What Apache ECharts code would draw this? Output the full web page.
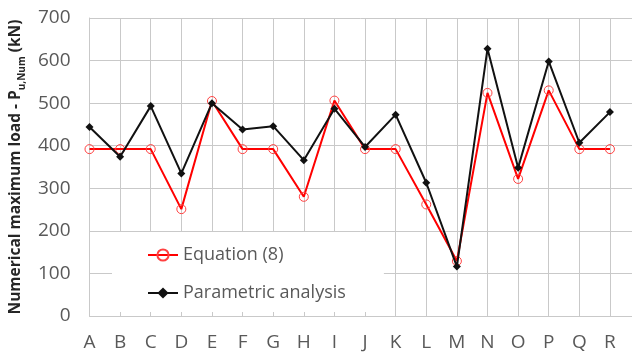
<!DOCTYPE html>
<html>
<head>
<meta charset="utf-8">
<script src="https://cdn.jsdelivr.net/npm/echarts@6/dist/echarts.min.js"></script>
<style>
  html, body { margin: 0; padding: 0; background: #fff; }
  #chart { width: 632px; height: 352px; }
</style>
</head>
<body>
<div id="chart"></div>
<script>
// Specimen labels along the horizontal axis
const categories = ['A', 'B', 'C', 'D', 'E', 'F', 'G', 'H', 'I', 'J', 'K', 'L', 'M', 'N', 'O', 'P', 'Q', 'R'];

// Maximum load predicted by Equation (8), kN
const equationValues = [392, 392, 392, 251, 505, 392, 392, 280, 506, 392, 392, 262, 129, 524, 322, 530, 392, 392];

// Maximum load from the parametric analysis, kN
const parametricValues = [444, 374, 493, 335, 500, 438, 446, 366, 487, 397, 473, 313, 116, 628, 348, 598, 407, 479];

// Vertical axis ticks
const yTicks = { min: 0, max: 700, step: 100 };

const gridColor = '#c9c9c9';
const labelColor = '#595959';
const font = '"Open Sans", "Noto Sans", sans-serif';

const toPoints = vals => vals.map((v, i) => [i, v]);

const chart = echarts.init(document.getElementById('chart'), null, { renderer: 'canvas' });

chart.setOption({
  animation: false,
  backgroundColor: '#fff',
  grid: { left: 89, right: 0, top: 18, bottom: 36, containLabel: false },
  xAxis: {
    type: 'value',
    min: 0,
    max: 17.72,
    interval: 1,
    axisLine: { show: true, lineStyle: { color: gridColor, width: 1 } },
    axisTick: { show: false },
    splitLine: { show: true, showMaxLine: false, lineStyle: { color: gridColor, width: 1 } },
    axisLabel: {
      color: labelColor,
      fontFamily: font,
      fontSize: 19,
      margin: 17,
      showMaxLabel: false,
      formatter: v => (Number.isInteger(v) && categories[v]) ? categories[v] : ''
    }
  },
  yAxis: {
    type: 'value',
    min: yTicks.min,
    max: yTicks.max,
    interval: yTicks.step,
    name: '{t|Numerical maximum load - P}{s|u,Num}{t| (kN)}',
    nameLocation: 'middle',
    nameRotate: 90,
    nameGap: 58,
    nameTextStyle: {
      rich: {
        t: { fontFamily: font, fontSize: 15.5, fontWeight: 'bold', color: '#262626', lineHeight: 22, verticalAlign: 'middle' },
        s: { fontFamily: font, fontSize: 10, fontWeight: 'bold', color: '#262626', lineHeight: 22, verticalAlign: 'bottom' }
      }
    },
    axisLine: { show: true, lineStyle: { color: gridColor, width: 1 } },
    axisTick: { show: false },
    splitLine: { show: true, lineStyle: { color: gridColor, width: 1 } },
    axisLabel: { color: labelColor, fontFamily: font, fontSize: 19, margin: 19 }
  },
  legend: {
    orient: 'vertical',
    left: 112,
    top: 232,
    padding: [14, 38, 10, 35],
    backgroundColor: '#fff',
    itemWidth: 30,
    itemHeight: 14,
    itemGap: 20,
    textStyle: { color: labelColor, fontFamily: font, fontSize: 18 },
    data: ['Equation (8)', 'Parametric analysis']
  },
  series: [
    {
      name: 'Equation (8)',
      type: 'line',
      data: toPoints(equationValues),
      symbol: 'circle',
      symbolSize: 9,
      showAllSymbol: true,
      lineStyle: { color: '#ff0000', width: 2 },
      itemStyle: { color: 'rgba(255,255,255,0)', borderColor: '#ff4040', borderWidth: 1 },
      z: 2
    },
    {
      name: 'Parametric analysis',
      type: 'line',
      data: toPoints(parametricValues),
      symbol: 'diamond',
      symbolSize: 8,
      showAllSymbol: true,
      lineStyle: { color: '#111', width: 2 },
      itemStyle: { color: '#111' },
      z: 3
    }
  ]
});
</script>
</body>
</html>
